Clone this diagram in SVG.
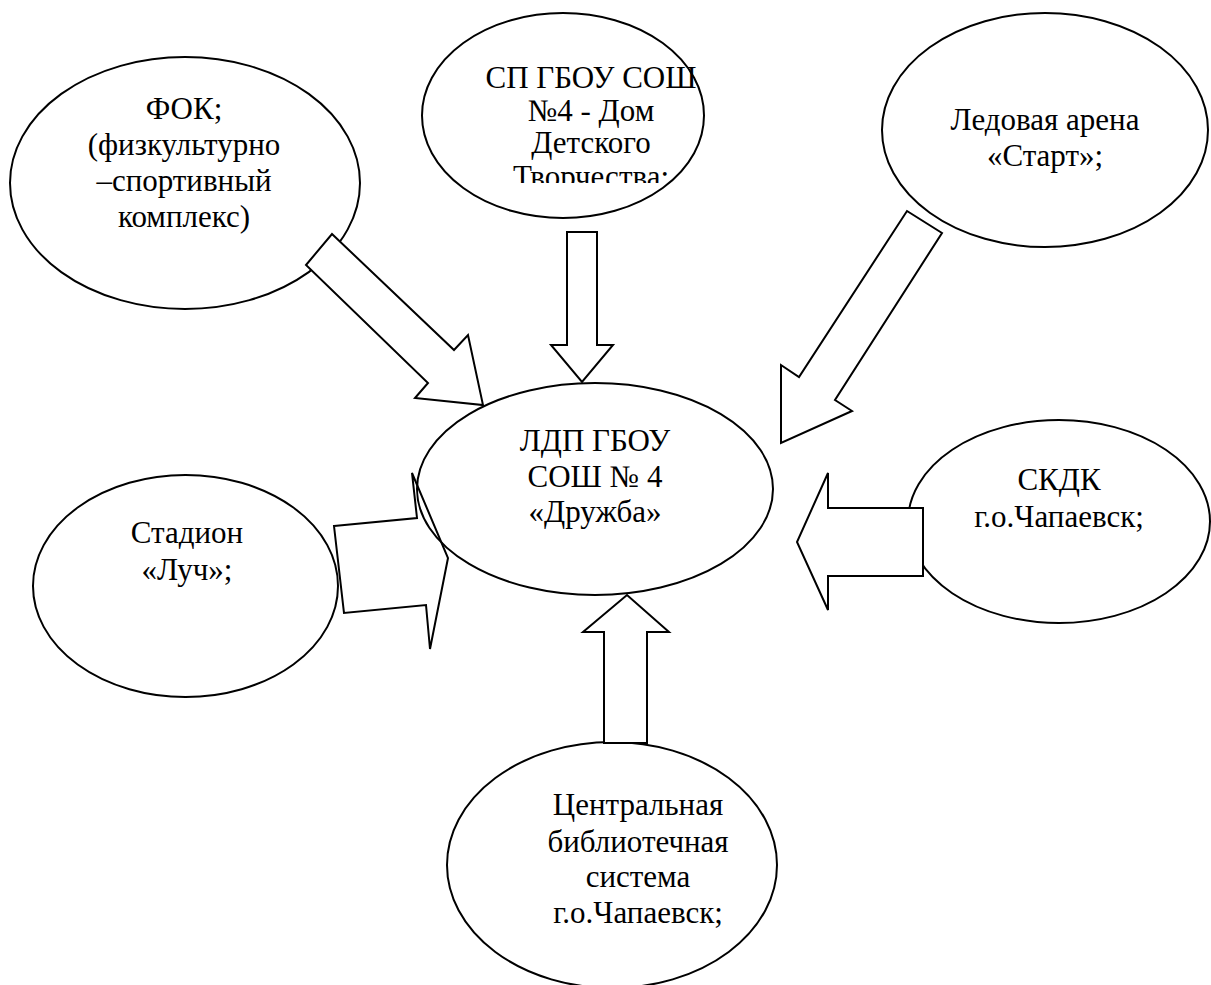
<svg xmlns="http://www.w3.org/2000/svg" width="1211" height="985" viewBox="0 0 1211 985" font-family="'Liberation Serif', 'DejaVu Serif', serif">
<style>
.node ellipse{fill:#fff;stroke:#000;stroke-width:2}
.node text{font-family:'Liberation Serif','DejaVu Serif',serif;font-size:31px;fill:#000;text-anchor:middle}
.arrow{fill:#fff;stroke:#000;stroke-width:2;stroke-linejoin:miter}
.open{fill:none}
</style>
<defs>
<clipPath id="clipSP"><rect x="422" y="40" width="300" height="143"/></clipPath>
</defs>
<rect width="1211" height="985" fill="#fff"/>
<g id="node-fok" class="node">
<ellipse cx="185" cy="183" rx="175" ry="126"/>
<text x="184" y="119" font-family="Liberation Serif">ФОК;</text>
<text x="184" y="155" font-family="Liberation Serif">(физкультурно</text>
<text x="184" y="191" font-family="Liberation Serif">–спортивный</text>
<text x="184" y="227" font-family="Liberation Serif">комплекс)</text>
</g>
<g id="node-sp" class="node">
<ellipse cx="563" cy="115.5" rx="141" ry="102.5"/>
<g clip-path="url(#clipSP)">
<text x="591" y="88" font-family="Liberation Serif">СП ГБОУ СОШ</text>
<text x="591" y="121" font-family="Liberation Serif">№4 - Дом</text>
<text x="591" y="153" font-family="Liberation Serif">Детского</text>
<text x="591" y="187" font-family="Liberation Serif">Творчества;</text>
</g>
</g>
<g id="node-ice" class="node">
<ellipse cx="1045" cy="130" rx="163" ry="117"/>
<text x="1045" y="130" font-family="Liberation Serif">Ледовая арена</text>
<text x="1045" y="166" font-family="Liberation Serif">«Старт»;</text>
</g>
<g id="node-center" class="node">
<ellipse cx="595" cy="489" rx="178" ry="106"/>
<text x="595" y="451" font-family="Liberation Serif">ЛДП ГБОУ</text>
<text x="595" y="487" font-family="Liberation Serif">СОШ № 4</text>
<text x="595" y="522" font-family="Liberation Serif">«Дружба»</text>
</g>
<g id="node-stadium" class="node">
<ellipse cx="185.5" cy="586" rx="152.5" ry="111"/>
<text x="187" y="543" font-family="Liberation Serif">Стадион</text>
<text x="187" y="580" font-family="Liberation Serif">«Луч»;</text>
</g>
<g id="node-skdk" class="node">
<ellipse cx="1059" cy="521.5" rx="151" ry="101.5"/>
<text x="1059" y="490" font-family="Liberation Serif">СКДК</text>
<text x="1059" y="527" font-family="Liberation Serif">г.о.Чапаевск;</text>
</g>
<g id="node-library" class="node">
<ellipse cx="612" cy="865" rx="165" ry="123"/>
<text x="638" y="815" font-family="Liberation Serif">Центральная</text>
<text x="638" y="852" font-family="Liberation Serif">библиотечная</text>
<text x="638" y="887" font-family="Liberation Serif">система</text>
<text x="638" y="923" font-family="Liberation Serif">г.о.Чапаевск;</text>
</g>
<g id="connectors">
<polygon class="arrow" points="332,234 454,350 468,335 483,405 415,398 428,383 306,265"/>
<polygon class="arrow" points="567,232 597,232 597,345 613,345 582,382 551,345 567,345"/>
<polygon class="arrow" points="907,211 942,233 835,400 852,411 781,443 781,365 799,377"/>
<polygon class="arrow open" points="334,526 417,518 412,473 448,558 430,649 426,605 344,613"/>
<polygon class="arrow" points="923,508 923,576 828,576 828,610 797,542 828,473 828,508"/>
<polygon class="arrow" points="604,743 647,743 647,632 669,632 627,595 583,632 604,632"/>
</g>
</svg>
